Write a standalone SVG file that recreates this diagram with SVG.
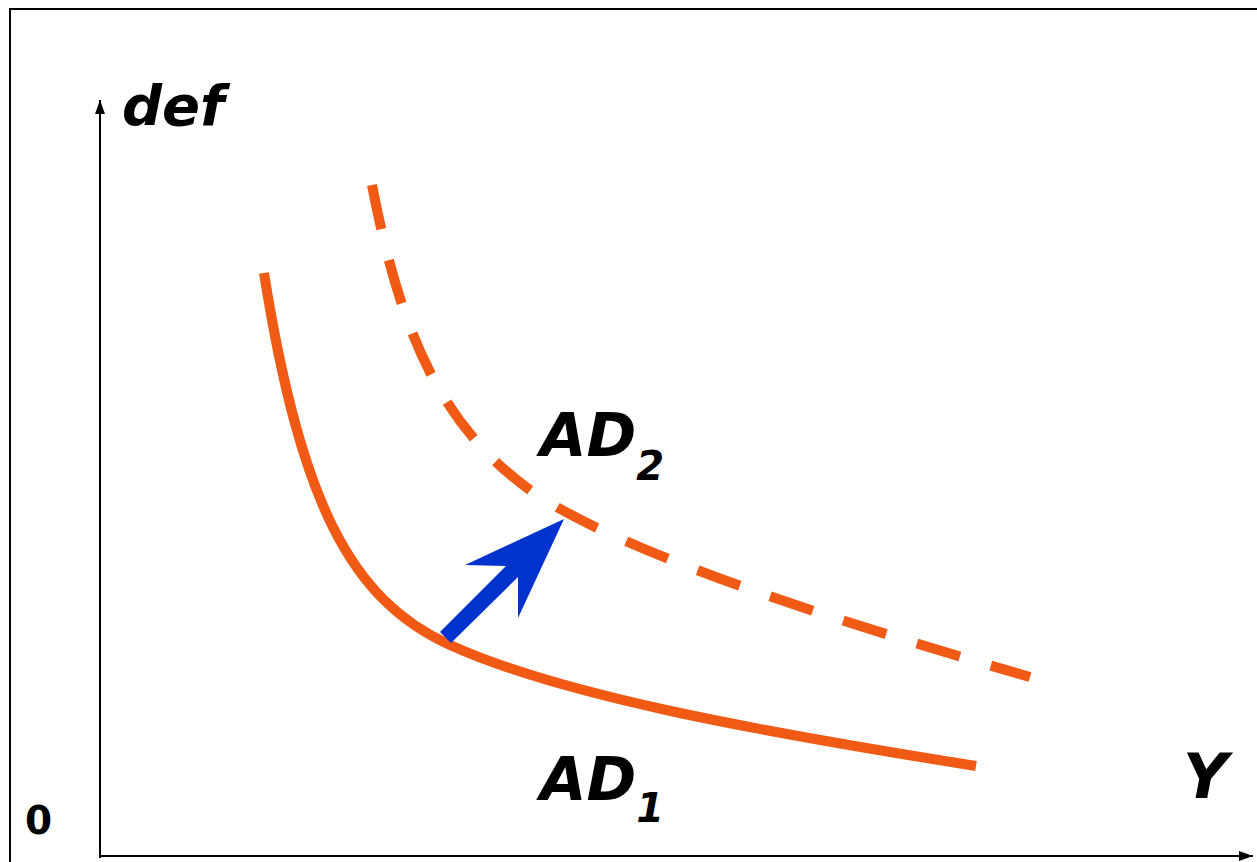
<svg xmlns="http://www.w3.org/2000/svg" width="1257" height="862" viewBox="0 0 1257 862">
<style>
.lbl{font-family:"DejaVu Sans",sans-serif;font-weight:bold;font-style:oblique;fill:#000}
.curve{fill:none;stroke:#F05A14;stroke-width:10}
.axis{stroke:#000;stroke-width:2;fill:none}
</style>
<defs>
<marker id="ah" viewBox="0 0 14 10" refX="14" refY="5" markerWidth="14" markerHeight="10" markerUnits="userSpaceOnUse" orient="auto">
<path d="M0,0 L14,5 L0,10 Z" fill="#000"/>
</marker>
</defs>
<rect width="1257" height="862" fill="#fff"/>
<rect x="10" y="9" width="1270" height="880" fill="none" stroke="#000" stroke-width="2"/>
<g id="axes">
<line class="axis" x1="100" y1="858" x2="100" y2="100" marker-end="url(#ah)"/>
<line class="axis" x1="100" y1="856" x2="1253" y2="856" marker-end="url(#ah)"/>
</g>
<g id="connectors">
<path id="AD1-curve" class="curve" d="M264,273 C300,500 350,600 450,645 C560,695 750,730 976,766"/>
<path id="AD2-curve" class="curve" stroke-dasharray="45,32" d="M372,185 C400,330 440,430 540,497 C640,560 850,625 1030,677"/>
<polygon id="shift-arrow" fill="#0033CC" points="564,519 465,565 506,566 440,632 451,643 518,577 518,618"/>
</g>
<g id="label-def"><text class="lbl" x="122" y="125" font-size="56">def</text></g>
<g id="label-AD2"><text class="lbl" x="540" y="456" font-size="60">AD<tspan font-size="40" dy="24">2</tspan></text></g>
<g id="label-AD1"><text class="lbl" x="540" y="800" font-size="60">AD<tspan font-size="40" dy="22">1</tspan></text></g>
<g id="label-Y"><text class="lbl" x="1183" y="798" font-size="62">Y</text></g>
<g id="label-0"><text x="25" y="834" font-family="DejaVu Sans, sans-serif" font-weight="bold" font-size="39">0</text></g>
</svg>
